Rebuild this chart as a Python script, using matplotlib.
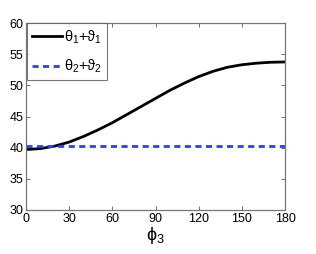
import matplotlib
matplotlib.use("Agg")
import matplotlib.pyplot as plt

phi3 = [0, 10, 20, 30, 40, 50, 60, 70, 80, 90, 100, 110, 120, 130, 140, 150, 160, 170, 180]
sum1 = [39.7, 39.85, 40.25, 40.9, 41.8, 42.85, 44.0, 45.3, 46.6, 47.9, 49.2, 50.35, 51.4,
        52.25, 52.9, 53.3, 53.55, 53.7, 53.75]
sum2 = [40.25] * len(phi3)
xticks = [0, 30, 60, 90, 120, 150, 180]
yticks = [30, 35, 40, 45, 50, 55, 60]

plt.rcParams['font.family'] = ['Liberation Sans', 'DejaVu Sans']
plt.rcParams['mathtext.fontset'] = 'custom'
plt.rcParams['mathtext.rm'] = 'Liberation Sans'
plt.rcParams['mathtext.it'] = 'Liberation Sans'

fig = plt.figure(figsize=(3.16, 2.54), dpi=100)
ax = fig.add_axes([26/316, 1-210/254, (285-26)/316, (210-23)/254])

ax.plot(phi3, sum1, color='black', lw=2.0, label=r'$\theta_1$+$\vartheta_1$')
ax.plot(phi3, sum2, color='#2b3cff', lw=2.0, ls=(0, (2.2, 1.6)), label=r'$\theta_2$+$\vartheta_2$')

ax.set_xlim(0, 180)
ax.set_ylim(30, 60)
ax.set_xticks(xticks)
ax.set_yticks(yticks)
ax.tick_params(direction='in', length=3, width=0.6, labelsize=9, top=True, right=True,
               colors='#555555', labelcolor='black', pad=2)
for s in ax.spines.values():
    s.set_color('#777777')
    s.set_linewidth(0.9)

ax.set_xlabel(r'$\phi_3$', fontsize=13, labelpad=0)

leg = ax.legend(loc='upper left', bbox_to_anchor=(0.005, 1.0), fontsize=10.5, frameon=True,
                fancybox=False, edgecolor='#555555', handlelength=2.0, handletextpad=0.15,
                borderpad=0.35, labelspacing=0.85, borderaxespad=0.0)
leg.get_frame().set_linewidth(0.8)

fig.savefig('out.png', dpi=100)
